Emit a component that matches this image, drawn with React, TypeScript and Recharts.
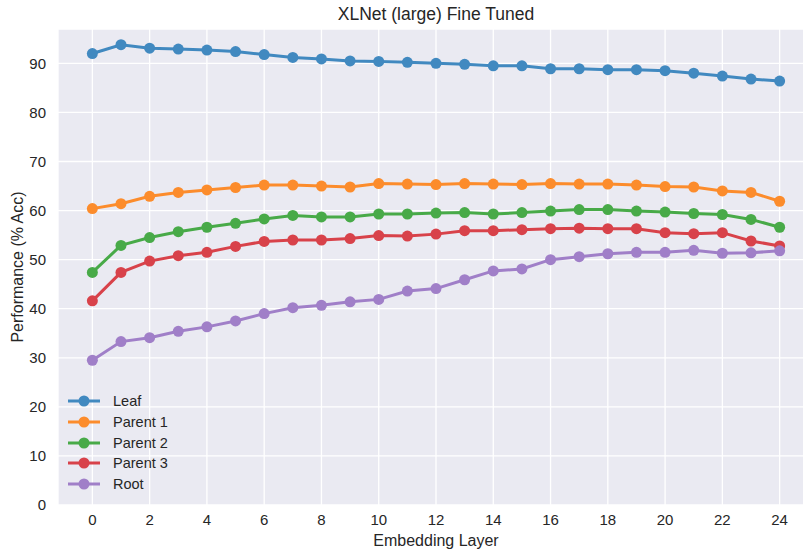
import React from "react";
import { LineChart, Line, XAxis, YAxis, CartesianGrid } from "recharts";

const layers = [0, 1, 2, 3, 4, 5, 6, 7, 8, 9, 10, 11, 12, 13, 14, 15, 16, 17, 18, 19, 20, 21, 22, 23, 24];

const leaf = [92.0, 93.8, 93.1, 92.9, 92.7, 92.4, 91.8, 91.2, 90.9, 90.5, 90.4, 90.2, 90.0, 89.8, 89.5, 89.5, 88.9, 88.9, 88.7, 88.7, 88.5, 88.0, 87.4, 86.8, 86.4];
const parent1 = [60.4, 61.4, 62.9, 63.7, 64.2, 64.7, 65.2, 65.2, 65.0, 64.8, 65.5, 65.4, 65.3, 65.5, 65.4, 65.3, 65.5, 65.4, 65.4, 65.2, 64.9, 64.8, 64.0, 63.7, 61.9];
const parent2 = [47.4, 52.9, 54.5, 55.7, 56.6, 57.4, 58.3, 59.0, 58.7, 58.7, 59.3, 59.3, 59.5, 59.6, 59.3, 59.6, 59.9, 60.2, 60.2, 59.9, 59.7, 59.4, 59.2, 58.2, 56.6];
const parent3 = [41.6, 47.4, 49.7, 50.8, 51.5, 52.7, 53.7, 54.0, 54.0, 54.3, 54.9, 54.8, 55.2, 55.9, 55.9, 56.1, 56.3, 56.4, 56.3, 56.3, 55.5, 55.3, 55.5, 53.8, 52.8];
const root = [29.5, 33.3, 34.1, 35.4, 36.3, 37.5, 39.0, 40.2, 40.7, 41.4, 41.9, 43.6, 44.1, 45.9, 47.7, 48.1, 50.0, 50.6, 51.2, 51.5, 51.5, 51.9, 51.3, 51.4, 51.8];

const xTicks = [0, 2, 4, 6, 8, 10, 12, 14, 16, 18, 20, 22, 24];
const yTicks = [0, 10, 20, 30, 40, 50, 60, 70, 80, 90];

const series = [
  { key: "leaf", name: "Leaf", color: "#4189c0" },
  { key: "parent1", name: "Parent 1", color: "#fc8c2c" },
  { key: "parent2", name: "Parent 2", color: "#48aa48" },
  { key: "parent3", name: "Parent 3", color: "#d8424a" },
  { key: "root", name: "Root", color: "#a07fc8" },
];

const data = layers.map((layer, i) => ({
  layer,
  leaf: leaf[i],
  parent1: parent1[i],
  parent2: parent2[i],
  parent3: parent3[i],
  root: root[i],
}));

const FONT = "'Liberation Sans', Arial, sans-serif";
const TEXT = "#262626";

// legend drawn outside recharts so it doesn't eat plot space
function LegendBox() {
  return (
    <div
      style={{
        position: "absolute",
        left: 67,
        top: 391,
        fontSize: 14.5,
        color: TEXT,
      }}
    >
      {series.map((s) => (
        <div key={s.key} style={{ display: "flex", alignItems: "center", height: 20.7 }}>
          <svg width={34} height={12} style={{ marginRight: 12 }}>
            <line x1={1} y1={6} x2={33} y2={6} stroke={s.color} strokeWidth={3} />
            <circle cx={17} cy={6} r={5.5} fill={s.color} />
          </svg>
          <span>{s.name}</span>
        </div>
      ))}
    </div>
  );
}

export default function App() {
  return (
    <div
      style={{
        position: "absolute",
        left: 0,
        top: 0,
        width: 803,
        height: 551,
        overflow: "hidden",
        background: "#ffffff",
        fontFamily: FONT,
      }}
    >
      <div
        style={{
          position: "absolute",
          left: 58,
          width: 756,
          top: 4,
          textAlign: "center",
          fontSize: 17.5,
          color: TEXT,
        }}
      >
        XLNet (large) Fine Tuned
      </div>
      <LineChart
        width={830}
        height={551}
        data={data}
        margin={{ top: 29, right: 16, bottom: 0, left: 0 }}
        style={{ position: "absolute", left: 0, top: 0 }}
      >
        <CartesianGrid fill="#eaeaf2" stroke="#ffffff" strokeWidth={1.3} />
        <XAxis
          dataKey="layer"
          type="number"
          domain={[-1.2, 25.2]}
          ticks={xTicks}
          allowDataOverflow
          axisLine={false}
          tickLine={false}
          tick={{ fill: TEXT, fontSize: 15 }}
          tickMargin={3}
          height={46}
          label={{ value: "Embedding Layer", position: "insideBottom", offset: 5, fill: TEXT, fontSize: 16 }}
        />
        <YAxis
          type="number"
          domain={[0, 97]}
          ticks={yTicks}
          allowDataOverflow
          axisLine={false}
          tickLine={false}
          tick={{ fill: TEXT, fontSize: 15 }}
          tickMargin={6}
          width={58}
          label={{
            value: "Performance (% Acc)",
            angle: -90,
            position: "insideLeft",
            offset: 17,
            style: { textAnchor: "middle" },
            fill: TEXT,
            fontSize: 16,
          }}
        />
        {series.map((s) => (
          <Line
            key={s.key}
            dataKey={s.key}
            name={s.name}
            stroke={s.color}
            strokeWidth={3}
            dot={{ r: 5.5, fill: s.color, stroke: s.color, strokeWidth: 0 }}
            activeDot={false}
            isAnimationActive={false}
          />
        ))}
      </LineChart>
      <LegendBox />
    </div>
  );
}
